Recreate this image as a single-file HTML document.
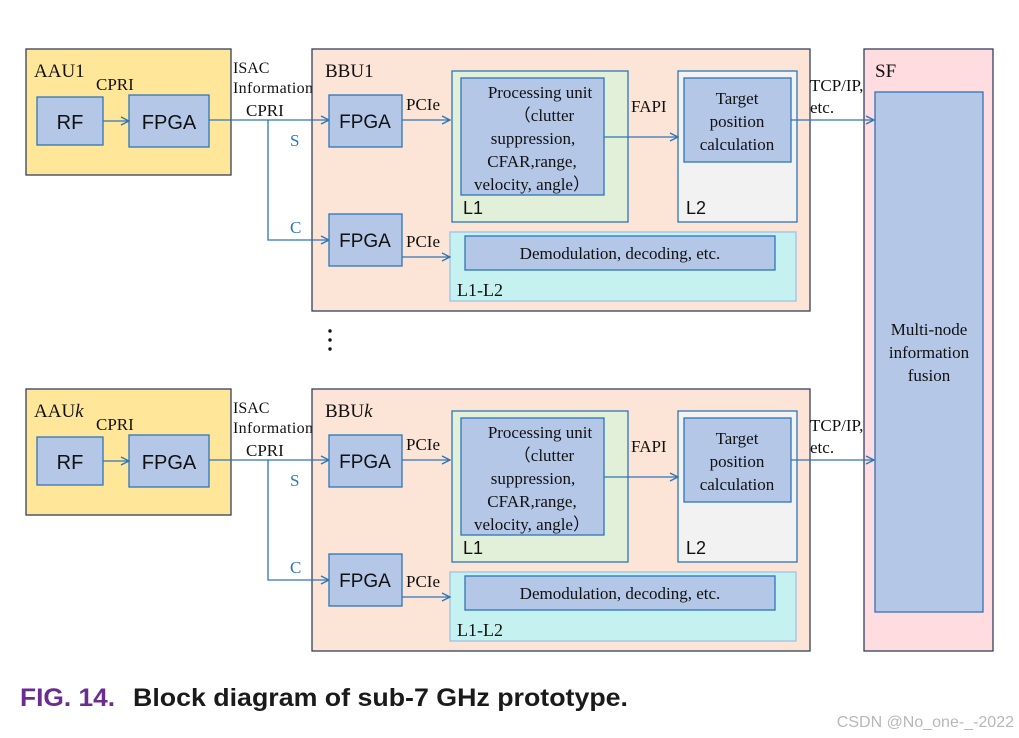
<!DOCTYPE html>
<html><head><meta charset="utf-8"><style>
html,body{margin:0;padding:0;background:#fff;}
svg{display:block;}
.s{font-family:"Liberation Serif",serif;fill:#111;}
.a{font-family:"Liberation Sans",sans-serif;fill:#111;}
</style></head><body>
<svg width="1019" height="738" viewBox="0 0 1019 738" xmlns="http://www.w3.org/2000/svg">
<defs>
<marker id="ar" markerWidth="10" markerHeight="10" refX="9" refY="5" orient="auto" markerUnits="userSpaceOnUse">
<path d="M1,1 L9,5 L1,9" fill="none" stroke="#2E75B6" stroke-width="1.3"/>
</marker>
<g id="blk">
<rect x="26" y="49" width="205" height="126" fill="#FFE699" stroke="#33415C" stroke-width="1.3"/>
<rect x="37" y="97" width="66" height="48" fill="#B4C7E7" stroke="#2E75B6" stroke-width="1.3"/>
<text x="70" y="129" class="a" font-size="20" text-anchor="middle">RF</text>
<rect x="129" y="95" width="80" height="52" fill="#B4C7E7" stroke="#2E75B6" stroke-width="1.3"/>
<text x="169" y="129" class="a" font-size="20" text-anchor="middle">FPGA</text>
<text x="96" y="90" class="s" font-size="17">CPRI</text>
<line x1="103" y1="121" x2="129" y2="121" stroke="#2E75B6" stroke-width="1.3" marker-end="url(#ar)"/>
<text x="233" y="73" class="s" font-size="16">ISAC</text>
<text x="233" y="93" class="s" font-size="16" textLength="80">Information</text>
<text x="246" y="116" class="s" font-size="17">CPRI</text>
<rect x="312" y="49" width="498" height="262" fill="#FCE4D6" stroke="#33415C" stroke-width="1.3"/>
<line x1="209" y1="120" x2="329" y2="120" stroke="#2E75B6" stroke-width="1.3" marker-end="url(#ar)"/>
<polyline points="268,120 268,240 329,240" fill="none" stroke="#2E75B6" stroke-width="1.3" marker-end="url(#ar)"/>
<text x="290" y="146" class="s" font-size="17" style="fill:#2E75B6">S</text>
<text x="290" y="233" class="s" font-size="17" style="fill:#2E75B6">C</text>
<rect x="329" y="95" width="73" height="52" fill="#B4C7E7" stroke="#2E75B6" stroke-width="1.3"/>
<text x="365" y="128" class="a" font-size="19" text-anchor="middle">FPGA</text>
<rect x="329" y="214" width="73" height="52" fill="#B4C7E7" stroke="#2E75B6" stroke-width="1.3"/>
<text x="365" y="247" class="a" font-size="19" text-anchor="middle">FPGA</text>
<text x="406" y="110" class="s" font-size="17">PCIe</text>
<text x="406" y="247" class="s" font-size="17">PCIe</text>
<rect x="452" y="71" width="176" height="151" fill="#E2F0D9" stroke="#2E75B6" stroke-width="1.3"/>
<rect x="461" y="78" width="143" height="117" fill="#B4C7E7" stroke="#2E75B6" stroke-width="1.3"/>
<text x="540" y="98" class="s" font-size="17" text-anchor="middle">Processing unit</text>
<text x="544" y="121" class="s" font-size="17" text-anchor="middle">（clutter</text>
<text x="533" y="144" class="s" font-size="17" text-anchor="middle">suppression,</text>
<text x="532" y="167" class="s" font-size="17" text-anchor="middle">CFAR,range,</text>
<text x="532" y="190" class="s" font-size="17" text-anchor="middle">velocity, angle）</text>
<text x="463" y="214" class="a" font-size="18">L1</text>
<rect x="678" y="71" width="119" height="151" fill="#F2F2F2" stroke="#2E75B6" stroke-width="1.3"/>
<rect x="684" y="78" width="107" height="84" fill="#B4C7E7" stroke="#2E75B6" stroke-width="1.3"/>
<text x="737" y="104" class="s" font-size="17" text-anchor="middle">Target</text>
<text x="737" y="127" class="s" font-size="17" text-anchor="middle">position</text>
<text x="737" y="150" class="s" font-size="17" text-anchor="middle">calculation</text>
<text x="686" y="214" class="a" font-size="18">L2</text>
<text x="631" y="112" class="s" font-size="17">FAPI</text>
<line x1="604" y1="137" x2="678" y2="137" stroke="#2E75B6" stroke-width="1.3" marker-end="url(#ar)"/>
<rect x="450" y="232" width="346" height="69" fill="#C5F2F0" stroke="#9DC3E6" stroke-width="1.3"/>
<rect x="465" y="236" width="310" height="34" fill="#B4C7E7" stroke="#2E75B6" stroke-width="1.3"/>
<text x="620" y="259" class="s" font-size="17" text-anchor="middle">Demodulation, decoding, etc.</text>
<text x="457" y="296" class="s" font-size="18">L1-L2</text>
<line x1="402" y1="120" x2="450" y2="120" stroke="#2E75B6" stroke-width="1.3" marker-end="url(#ar)"/>
<line x1="402" y1="257" x2="450" y2="257" stroke="#2E75B6" stroke-width="1.3" marker-end="url(#ar)"/>
<line x1="791" y1="120" x2="874" y2="120" stroke="#2E75B6" stroke-width="1.3" marker-end="url(#ar)"/>
<text x="810" y="91" class="s" font-size="17">TCP/IP,</text>
<text x="810" y="113" class="s" font-size="17">etc.</text>
</g>
</defs>
<rect x="864" y="49" width="129" height="602" fill="#FFDCE0" stroke="#33415C" stroke-width="1.3"/>
<rect x="875" y="92" width="108" height="520" fill="#B4C7E7" stroke="#2E75B6" stroke-width="1.3"/>
<text x="875" y="77" class="s" font-size="19">SF</text>
<text x="929" y="335" class="s" font-size="17" text-anchor="middle">Multi-node</text>
<text x="929" y="358" class="s" font-size="17" text-anchor="middle">information</text>
<text x="929" y="381" class="s" font-size="17" text-anchor="middle">fusion</text>
<use href="#blk"/>
<use href="#blk" y="340"/>
<text x="34" y="77" class="s" font-size="19">AAU1</text>
<text x="325" y="77" class="s" font-size="19">BBU1</text>
<text x="34" y="417" class="s" font-size="19">AAU<tspan font-style="italic">k</tspan></text>
<text x="325" y="417" class="s" font-size="19">BBU<tspan font-style="italic">k</tspan></text>
<circle cx="330" cy="331" r="1.7" fill="#111"/>
<circle cx="330" cy="340" r="1.7" fill="#111"/>
<circle cx="330" cy="349" r="1.7" fill="#111"/>
<text x="20" y="706" font-family="Liberation Sans, sans-serif" font-weight="bold" font-size="25" fill="#6B2C91" textLength="95" lengthAdjust="spacingAndGlyphs">FIG. 14.</text>
<text x="133" y="706" font-family="Liberation Sans, sans-serif" font-weight="bold" font-size="25" fill="#1a1a1a" textLength="495" lengthAdjust="spacingAndGlyphs">Block diagram of sub-7 GHz prototype.</text>
<text x="1014" y="727" font-family="Liberation Sans, sans-serif" font-size="16" fill="#b8b8b8" text-anchor="end">CSDN @No_one-_-2022</text>
</svg>
</body></html>
